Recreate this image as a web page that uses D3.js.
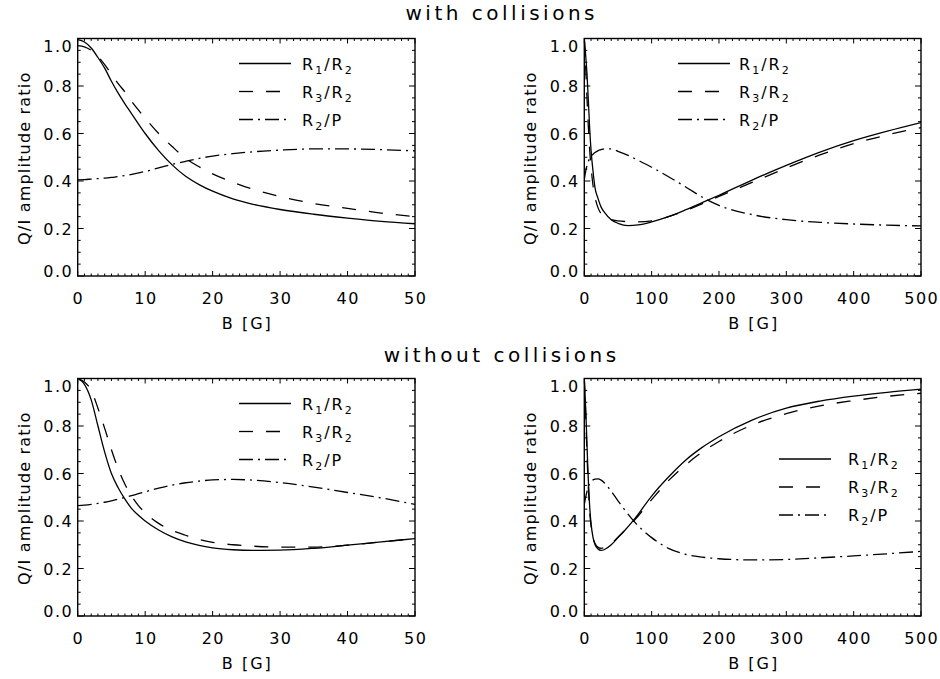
<!DOCTYPE html>
<html>
<head>
<meta charset="utf-8">
<script src="https://cdn.jsdelivr.net/npm/d3@7/dist/d3.min.js"></script>
<style>
  html, body { margin: 0; padding: 0; background: #fff; }
  svg { display: block; }
  text { font-family: "DejaVu Sans", sans-serif; fill: #000; }
</style>
</head>
<body>
<svg id="chart" width="940" height="679"></svg>
<script>
// ---------------- data ----------------
const rowTitles = ["with collisions", "without collisions"];
const xLabel = "B [G]";
const yLabel = "Q/I amplitude ratio";
const yTicks = [0, 0.2, 0.4, 0.6, 0.8, 1.0];
const yTickLabels = ["0.0", "0.2", "0.4", "0.6", "0.8", "1.0"];
const xTicksLow = [0, 10, 20, 30, 40, 50];
const xTicksHigh = [0, 100, 200, 300, 400, 500];
const seriesNames = ["R1/R2", "R3/R2", "R2/P"];

// with collisions, 0-50 G
const bTL   = [0, 1, 2, 3, 4, 5, 6, 7, 8, 10, 12, 14, 16, 18, 20, 23, 26, 30, 35, 40, 45, 50];
const r12TL = [0.995, 0.985, 0.96, 0.92, 0.875, 0.82, 0.77, 0.725, 0.683, 0.60, 0.528, 0.468, 0.42, 0.385, 0.357, 0.325, 0.302, 0.28, 0.26, 0.244, 0.23, 0.22];
const r32TL = [0.97, 0.965, 0.95, 0.925, 0.89, 0.85, 0.81, 0.775, 0.735, 0.665, 0.60, 0.545, 0.495, 0.46, 0.43, 0.395, 0.365, 0.335, 0.305, 0.285, 0.265, 0.25];
const r2pTL = [0.405, 0.406, 0.408, 0.41, 0.412, 0.415, 0.419, 0.423, 0.428, 0.44, 0.455, 0.47, 0.483, 0.495, 0.505, 0.515, 0.523, 0.53, 0.535, 0.535, 0.532, 0.527];

// with collisions, 0-500 G
const bTR   = [0, 2, 4, 6, 8, 10, 13, 16, 20, 25, 30, 40, 50, 65, 80, 100, 125, 150, 180, 200, 250, 300, 350, 400, 450, 500];
const r12TR = [1.0, 0.93, 0.85, 0.74, 0.62, 0.53, 0.44, 0.37, 0.33, 0.29, 0.268, 0.237, 0.222, 0.212, 0.215, 0.228, 0.25, 0.278, 0.315, 0.34, 0.405, 0.466, 0.522, 0.57, 0.61, 0.646];
const r32TR = [1.0, 0.88, 0.75, 0.63, 0.53, 0.46, 0.38, 0.33, 0.29, 0.262, 0.248, 0.237, 0.232, 0.229, 0.228, 0.232, 0.25, 0.275, 0.31, 0.335, 0.395, 0.455, 0.51, 0.557, 0.594, 0.625];
const r2pTR = [0.405, 0.44, 0.465, 0.483, 0.495, 0.504, 0.513, 0.52, 0.527, 0.532, 0.535, 0.535, 0.525, 0.508, 0.487, 0.458, 0.418, 0.376, 0.324, 0.297, 0.258, 0.237, 0.226, 0.219, 0.214, 0.211];

// without collisions, 0-50 G
const bBL   = [0, 1, 2, 3, 4, 5, 6, 7, 8, 9, 10, 12, 14, 16, 18, 20, 23, 26, 30, 35, 40, 45, 50];
const r12BL = [1.0, 0.975, 0.91, 0.80, 0.69, 0.60, 0.54, 0.492, 0.452, 0.424, 0.40, 0.362, 0.333, 0.312, 0.297, 0.287, 0.279, 0.276, 0.277, 0.285, 0.298, 0.312, 0.326];
const r32BL = [1.0, 0.985, 0.95, 0.875, 0.79, 0.70, 0.62, 0.555, 0.505, 0.465, 0.435, 0.39, 0.36, 0.34, 0.322, 0.31, 0.30, 0.294, 0.29, 0.29, 0.298, 0.312, 0.326];
const r2pBL = [0.465, 0.467, 0.47, 0.474, 0.479, 0.485, 0.492, 0.499, 0.507, 0.515, 0.523, 0.538, 0.551, 0.561, 0.568, 0.573, 0.575, 0.572, 0.562, 0.543, 0.52, 0.497, 0.47];

// without collisions, 0-500 G
const bBR   = [0, 2, 4, 6, 8, 10, 13, 16, 20, 25, 30, 40, 50, 60, 75, 100, 125, 150, 175, 200, 250, 300, 350, 400, 450, 500];
const r12BR = [1.0, 0.88, 0.72, 0.57, 0.46, 0.39, 0.33, 0.30, 0.283, 0.276, 0.28, 0.30, 0.33, 0.36, 0.41, 0.505, 0.585, 0.655, 0.71, 0.755, 0.826, 0.875, 0.905, 0.926, 0.942, 0.955];
const r32BR = [1.0, 0.85, 0.68, 0.54, 0.44, 0.38, 0.33, 0.305, 0.29, 0.285, 0.288, 0.305, 0.332, 0.36, 0.405, 0.49, 0.57, 0.635, 0.69, 0.735, 0.805, 0.852, 0.885, 0.907, 0.925, 0.938];
const r2pBR = [0.47, 0.50, 0.525, 0.545, 0.558, 0.567, 0.573, 0.576, 0.577, 0.572, 0.56, 0.525, 0.485, 0.447, 0.395, 0.33, 0.285, 0.26, 0.248, 0.241, 0.236, 0.238, 0.245, 0.253, 0.262, 0.272];

// ---------------- layout / style ----------------
const panels = [
  { x0: 77.7,  x1: 415, y0: 38.5,  y1: 276, xMax: 50,  xTicks: xTicksLow,  b: bTL, s: [r12TL, r32TL, r2pTL], leg: { lx: 239, tx: 302, ly: 63.5 } },
  { x0: 584.3, x1: 921, y0: 38.5,  y1: 276, xMax: 500, xTicks: xTicksHigh, b: bTR, s: [r12TR, r32TR, r2pTR], leg: { lx: 678, tx: 739, ly: 63.5 } },
  { x0: 77.7,  x1: 415, y0: 378.5, y1: 616, xMax: 50,  xTicks: xTicksLow,  b: bBL, s: [r12BL, r32BL, r2pBL], leg: { lx: 239, tx: 302, ly: 403.5 } },
  { x0: 584.3, x1: 921, y0: 378.5, y1: 616, xMax: 500, xTicks: xTicksHigh, b: bBR, s: [r12BR, r32BR, r2pBR], leg: { lx: 779, tx: 848, ly: 459 } }
];
const dashes = [null, "14,13", "14,5,2,5"];
const legendRowGap = 28;
const legendLineLen = 52;

const svg = d3.select("#chart");

// titles
const titleLS = 3.5;
[[rowTitles[0], 20], [rowTitles[1], 362]].forEach(([t, y]) => {
  svg.append("text").attr("x", 500 + titleLS / 2).attr("y", y)
    .attr("text-anchor", "middle").style("font-size", "20px")
    .style("letter-spacing", titleLS + "px").text(t);
});

panels.forEach((p, pi) => {
  const x = d3.scaleLinear().domain([0, p.xMax]).range([p.x0, p.x1]);
  const y = d3.scaleLinear().domain([0, 1]).range([p.y1, p.y0]);
  const g = svg.append("g");

  const clipId = "clip" + pi;
  g.append("clipPath").attr("id", clipId).append("rect")
    .attr("x", p.x0).attr("y", p.y0).attr("width", p.x1 - p.x0).attr("height", p.y1 - p.y0);

  // curves
  const line = d3.line().x(d => x(d[0])).y(d => y(d[1])).curve(d3.curveMonotoneX);
  p.s.forEach((vals, si) => {
    const pts = p.b.map((bv, i) => [bv, vals[i]]);
    g.append("path").attr("clip-path", `url(#${clipId})`)
      .attr("d", line(pts)).attr("fill", "none").attr("stroke", "#000")
      .attr("stroke-width", 1.3)
      .attr("stroke-dasharray", dashes[si]);
  });

  // ticks (inward, all four sides)
  const majLen = 5, minLen = 2.5;
  const xStep = p.xTicks[1] - p.xTicks[0];
  const xMinor = d3.range(0, p.xMax + 1e-9, xStep / 10);
  const yMinor = d3.range(0, 1 + 1e-9, 0.05);
  const tk = g.append("g").attr("stroke", "#000").attr("stroke-width", 1);
  xMinor.forEach(v => {
    const isMaj = p.xTicks.some(t => Math.abs(t - v) < 1e-6);
    const L = isMaj ? majLen : minLen;
    tk.append("line").attr("x1", x(v)).attr("x2", x(v)).attr("y1", p.y1).attr("y2", p.y1 - L);
    tk.append("line").attr("x1", x(v)).attr("x2", x(v)).attr("y1", p.y0).attr("y2", p.y0 + L);
  });
  yMinor.forEach(v => {
    const isMaj = yTicks.some(t => Math.abs(t - v) < 1e-6);
    const L = isMaj ? majLen + 1 : minLen + 0.5;
    tk.append("line").attr("x1", p.x0).attr("x2", p.x0 + L).attr("y1", y(v)).attr("y2", y(v));
    tk.append("line").attr("x1", p.x1).attr("x2", p.x1 - L).attr("y1", y(v)).attr("y2", y(v));
  });

  // frame
  g.append("rect").attr("x", p.x0).attr("y", p.y0).attr("width", p.x1 - p.x0).attr("height", p.y1 - p.y0)
    .attr("fill", "none").attr("stroke", "#000").attr("stroke-width", 1.4);

  // tick labels
  const tls = 1.5;
  p.xTicks.forEach(v => {
    g.append("text").attr("x", x(v) + tls / 2).attr("y", p.y1 + 28)
      .attr("text-anchor", "middle").style("font-size", "16px").style("letter-spacing", tls + "px")
      .text(String(v));
  });
  yTicks.forEach((v, i) => {
    let off = 6;
    if (i === 0) off = 1;
    if (i === yTicks.length - 1) off = 13;
    g.append("text").attr("x", p.x0 - 6 + tls).attr("y", y(v) + off)
      .attr("text-anchor", "end").style("font-size", "16px").style("letter-spacing", tls + "px")
      .text(yTickLabels[i]);
  });

  // axis labels
  const als = 2;
  g.append("text").attr("x", (p.x0 + p.x1) / 2 + als / 2).attr("y", p.y1 + 53)
    .attr("text-anchor", "middle").style("font-size", "16px").style("letter-spacing", als + "px")
    .text(xLabel);
  const cy = (p.y0 + p.y1) / 2;
  g.append("text").attr("transform", `translate(${p.x0 - 48},${cy + 1}) rotate(-90)`)
    .attr("text-anchor", "middle").style("font-size", "16px").style("letter-spacing", "1.2px")
    .text(yLabel);

  // legend
  const lg = g.append("g");
  seriesNames.forEach((name, si) => {
    const ly = p.leg.ly + si * legendRowGap;
    lg.append("line").attr("x1", p.leg.lx).attr("x2", p.leg.lx + legendLineLen)
      .attr("y1", ly).attr("y2", ly).attr("stroke", "#000").attr("stroke-width", 1.3)
      .attr("stroke-dasharray", dashes[si]);
    const t = lg.append("text").attr("x", p.leg.tx).attr("y", ly + 6)
      .style("font-size", "16px").style("letter-spacing", "2px");
    const m = name.match(/^R(\d)\/(R(\d)|P)$/);
    t.append("tspan").text("R");
    t.append("tspan").attr("dy", 4).style("font-size", "11px").text(m[1]);
    t.append("tspan").attr("dy", -4).text("/");
    if (m[3]) {
      t.append("tspan").text("R");
      t.append("tspan").attr("dy", 4).style("font-size", "11px").text(m[3]);
    } else {
      t.append("tspan").text("P");
    }
  });
});
</script>
</body>
</html>
